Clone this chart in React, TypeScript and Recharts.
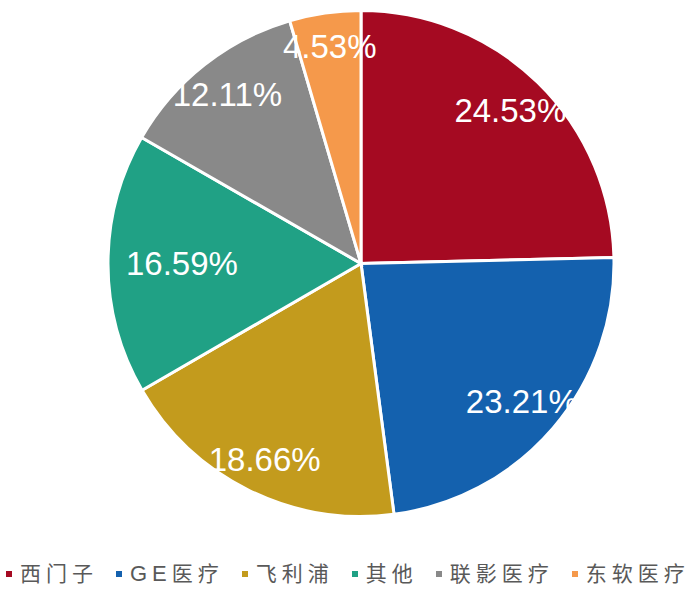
import React from "react";
import { PieChart, Pie, Cell, Legend } from "recharts";

const categories = ["西门子", "GE医疗", "飞利浦", "其他", "联影医疗", "东软医疗"];
const shares = [24.53, 23.21, 18.66, 16.59, 12.11, 4.53];
const colors = ["#A50A22", "#1461AE", "#C39B1D", "#20A185", "#898989", "#F5994B"];

const data = categories.map((name, i) => ({ name, value: shares[i] }));

const LABEL_FONT = 33;
const RADIAN = Math.PI / 180;

const charWidth = (c: string) => {
  if (c === ".") return 0.278;
  if (c === "%") return 0.889;
  return 0.556;
};

const renderLabel = (props: any) => {
  const { cx, cy, midAngle, outerRadius, value } = props;
  const text = `${Number(value).toFixed(2)}%`;
  let w = 0;
  for (const c of text) w += charWidth(c);
  const hw = (w * LABEL_FONT) / 2;
  const hh = LABEL_FONT * 0.46;
  const dx = Math.cos(-midAngle * RADIAN);
  const dy = Math.sin(-midAngle * RADIAN);
  const ext = Math.min(
    Math.abs(dx) > 1e-6 ? hw / Math.abs(dx) : Infinity,
    Math.abs(dy) > 1e-6 ? hh / Math.abs(dy) : Infinity
  );
  const r = outerRadius - 18 - ext;
  const x = cx + r * dx;
  const y = cy + r * dy;
  return (
    <text
      x={x}
      y={y}
      fill="#FFFFFF"
      textAnchor="middle"
      dominantBaseline="central"
      fontFamily="'Liberation Sans', Arial, sans-serif"
      fontSize={LABEL_FONT}
    >
      {text}
    </text>
  );
};

const splitRuns = (s: string) => s.match(/[A-Za-z0-9]+|[^A-Za-z0-9]+/g) || [s];

const renderLegend = () => (
  <div
    style={{
      display: "flex",
      flexDirection: "row",
      alignItems: "center",
      paddingLeft: 6,
      gap: 18,
      whiteSpace: "nowrap",
    }}
  >
    {categories.map((name, i) => (
      <div key={name} style={{ display: "flex", alignItems: "center" }}>
        <span
          style={{
            display: "inline-block",
            width: 6,
            height: 6,
            background: colors[i],
            marginRight: 8,
          }}
        />
        <span style={{ color: "#595959", lineHeight: "26px", letterSpacing: 5 }}>
          {splitRuns(name).map((run, k) =>
            /[A-Za-z0-9]/.test(run) ? (
              <span key={k} style={{ fontFamily: "'Liberation Sans', Arial, sans-serif", fontSize: 22 }}>
                {run}
              </span>
            ) : (
              <span key={k} style={{ fontFamily: "'Noto Sans CJK SC', sans-serif", fontSize: 21 }}>
                {run}
              </span>
            )
          )}
        </span>
      </div>
    ))}
  </div>
);

export default function App() {
  return (
    <div
      style={{
        position: "absolute",
        left: 0,
        top: 0,
        width: 700,
        height: 589,
        background: "#FFFFFF",
      }}
    >
      <PieChart width={700} height={589} margin={{ top: 0, right: 0, bottom: 0, left: 0 }}>
        <Pie
          data={data}
          dataKey="value"
          nameKey="name"
          cx={361}
          cy={263.5}
          outerRadius={253}
          innerRadius={0}
          startAngle={90}
          endAngle={-270}
          stroke="#FFFFFF"
          strokeWidth={3}
          label={renderLabel}
          labelLine={false}
          isAnimationActive={false}
        >
          {data.map((d, i) => (
            <Cell key={d.name} fill={colors[i]} />
          ))}
        </Pie>
        <Legend
          content={renderLegend}
          wrapperStyle={{ position: "absolute", left: 0, top: 559, width: 700 }}
        />
      </PieChart>
    </div>
  );
}
